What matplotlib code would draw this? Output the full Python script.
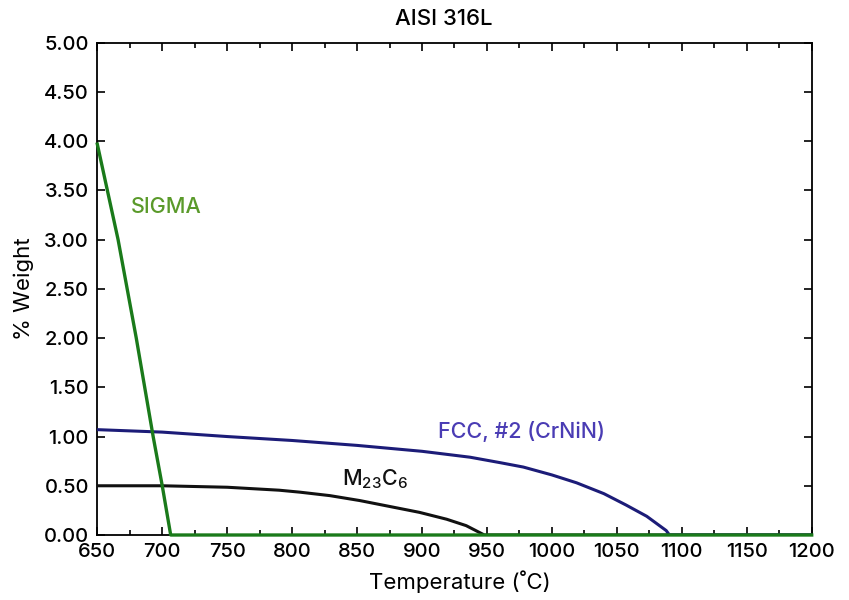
import matplotlib
matplotlib.use("Agg")
import matplotlib.pyplot as plt
from matplotlib.ticker import MultipleLocator, FormatStrFormatter

plt.rcParams['font.family'] = ['Inter', 'DejaVu Sans']
plt.rcParams['font.weight'] = 'medium'
plt.rcParams['mathtext.default'] = 'regular'

# Data
sigma_T = [650, 666, 680, 693, 700, 706.5, 1200]
sigma_w = [3.97, 3.0, 2.0, 1.0, 0.5, 0.0, 0.0]

fcc_T = [650, 700, 750, 800, 850, 900, 937, 960, 978, 1000, 1019, 1040, 1057, 1073, 1088, 1090.5, 1200]
fcc_w = [1.07, 1.045, 1.0, 0.96, 0.91, 0.85, 0.79, 0.735, 0.69, 0.61, 0.53, 0.42, 0.305, 0.19, 0.045, 0.0, 0.0]

m23_T = [650, 700, 750, 790, 806, 829, 852, 875, 898, 919, 934, 948, 1200]
m23_w = [0.50, 0.50, 0.485, 0.455, 0.435, 0.40, 0.35, 0.29, 0.23, 0.16, 0.095, 0.0, 0.0]

x_ticks = [650, 700, 750, 800, 850, 900, 950, 1000, 1050, 1100, 1150, 1200]
y_ticks = [0.0, 0.5, 1.0, 1.5, 2.0, 2.5, 3.0, 3.5, 4.0, 4.5, 5.0]

fig = plt.figure(figsize=(8.49, 6.0), dpi=100)
ax = fig.add_axes([97.3/849, 1 - 535/600, (811.7-97.3)/849, (535-42.7)/600])

ax.plot(m23_T, m23_w, color='#111111', lw=2.2, zorder=3)
ax.plot(fcc_T, fcc_w, color='#1c1c78', lw=2.2, zorder=3)
ax.plot(sigma_T, sigma_w, color='#1a7a1a', lw=2.4, zorder=4, clip_on=False)

ax.set_xlim(650, 1200)
ax.set_ylim(0, 5)
ax.set_xticks(x_ticks)
ax.set_yticks(y_ticks)
ax.xaxis.set_minor_locator(MultipleLocator(25))
ax.yaxis.set_major_formatter(FormatStrFormatter('%.2f'))
ax.tick_params(which='both', direction='in', top=True, right=True, labelsize=14.5, width=1.2)
ax.tick_params(which='major', length=6, pad=6)
ax.tick_params(which='minor', length=3.5)
for s in ax.spines.values():
    s.set_linewidth(1.3)

fig.text(444/849, 1 - 19/600, 'AISI 316L', fontsize=16, ha='center', va='center')
ax.set_xlabel('Temperature (˚C)', fontsize=16)
ax.xaxis.set_label_coords((460-97.3)/714.4, -(570-535)/492.3)
ax.set_ylabel('% Weight', fontsize=16)
ax.yaxis.set_label_coords(-(97.3-34)/714.4, 0.5)

ax.text(675.7, 3.27, 'SIGMA', color='#5a9a2a', fontsize=15.5, va='baseline', ha='left')
ax.text(912, 0.99, 'FCC, #2 (CrNiN)', color='#4a3cb4', fontsize=15.5, va='baseline', ha='left')
ax.text(838.5, 0.50, 'M$_{23}$C$_6$', color='#111111', fontsize=15.5, va='baseline', ha='left')

fig.savefig('out.png', dpi=100)
